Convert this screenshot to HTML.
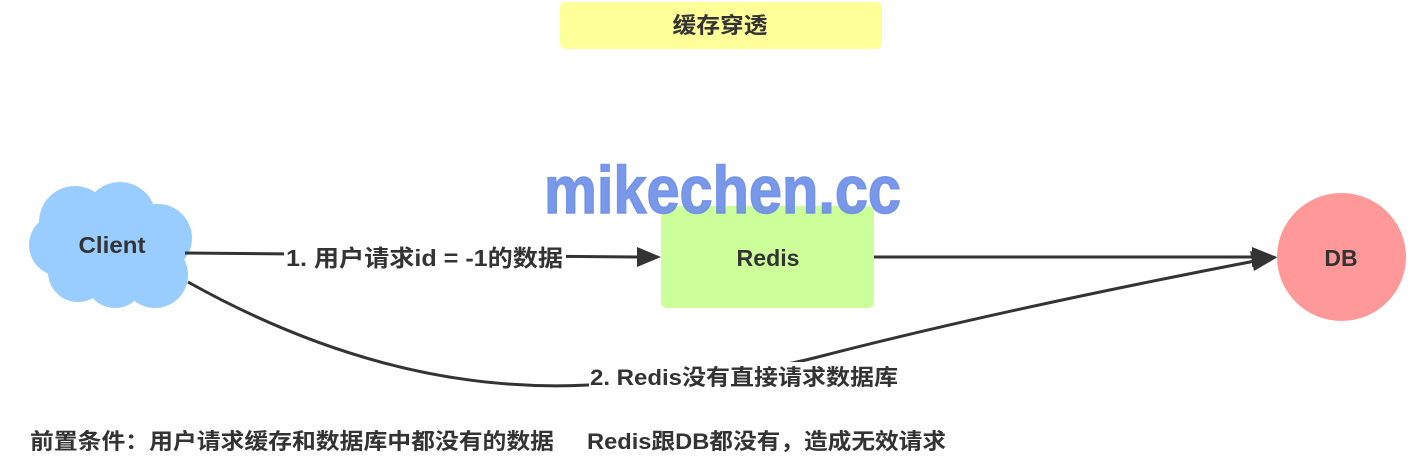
<!DOCTYPE html>
<html><head><meta charset="utf-8"><style>
html,body{margin:0;padding:0;background:#fff;}
svg{display:block;}
text{font-family:"Liberation Sans","Noto Sans CJK SC",sans-serif;font-weight:bold;fill:#333;}
</style></head><body>
<svg width="1425" height="472" viewBox="0 0 1425 472" xmlns="http://www.w3.org/2000/svg">
<rect x="0" y="0" width="1425" height="472" fill="#fff"/>
<!-- title -->
<rect x="560" y="2" width="322" height="47" rx="6" fill="#ffff99"/>
<text x="720" y="33" font-size="22" text-anchor="middle" textLength="95" lengthAdjust="spacingAndGlyphs">缓存穿透</text>

<!-- cloud -->
<g fill="#99ccff">
<circle cx="75" cy="222" r="36"/>
<circle cx="120" cy="218" r="36"/>
<circle cx="158" cy="238" r="34"/>
<circle cx="155" cy="275" r="33"/>
<circle cx="115" cy="278" r="30"/>
<circle cx="78" cy="272" r="30"/>
<circle cx="60" cy="245" r="31"/>
<ellipse cx="112" cy="248" rx="62" ry="45"/>
</g>
<text x="112" y="253" font-size="23" text-anchor="middle" textLength="67" lengthAdjust="spacingAndGlyphs">Client</text>

<!-- redis box -->
<rect x="661" y="206" width="213" height="102" rx="6" fill="#ccff99"/>
<text x="768" y="266" font-size="23" text-anchor="middle" textLength="63" lengthAdjust="spacingAndGlyphs">Redis</text>

<!-- DB -->
<ellipse cx="1341.5" cy="257" rx="64.5" ry="64" fill="#ff9999"/>
<text x="1341" y="266" font-size="23" text-anchor="middle">DB</text>

<!-- connectors -->
<g stroke="#333" stroke-width="3" fill="none">
<path d="M185 253 L640 257"/>
<path d="M874 257 L1255 257"/>
<path d="M188 282 Q390 395 588 385 C690 380 760 372 818 357 Q1000 310 1255 261"/>
</g>
<g fill="#333">
<polygon points="661,257 637,247 637,267"/>
<polygon points="1277,257 1252,247 1252,267"/>
<polygon points="1277,257.5 1250,251 1254,271"/>
</g>

<!-- label 1 -->
<rect x="284" y="243" width="282" height="30" fill="#fff"/>
<text x="286" y="266" font-size="23" textLength="277" lengthAdjust="spacingAndGlyphs">1. 用户请求id = -1的数据</text>

<!-- label 2 -->
<rect x="589" y="362" width="311" height="28" fill="#fff"/>
<text x="590" y="385" font-size="22" textLength="308" lengthAdjust="spacingAndGlyphs">2. Redis没有直接请求数据库</text>

<!-- watermark -->
<text x="544" y="213" font-size="67" textLength="357" lengthAdjust="spacingAndGlyphs" style="fill:#6f8fe8;fill-opacity:0.92;stroke:#6f8fe8;stroke-opacity:0.92;stroke-width:1.5">mikechen.cc</text>

<!-- bottom -->
<text x="30" y="449" font-size="22" textLength="524" lengthAdjust="spacingAndGlyphs">前置条件：用户请求缓存和数据库中都没有的数据</text>
<text x="587" y="449" font-size="22" textLength="359" lengthAdjust="spacingAndGlyphs">Redis跟DB都没有，造成无效请求</text>
</svg>
</body></html>
